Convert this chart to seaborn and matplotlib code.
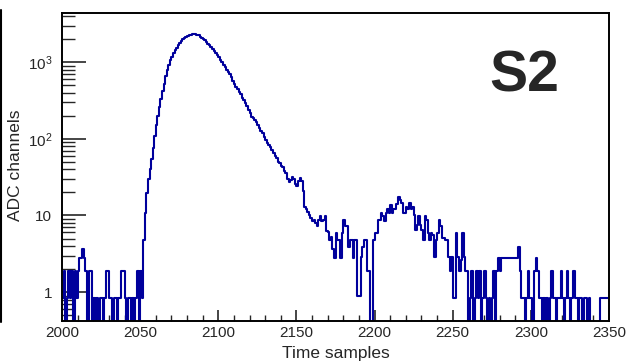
import numpy as np
import pandas as pd
import seaborn as sns
import matplotlib.pyplot as plt
from matplotlib.ticker import FixedLocator, FixedFormatter, LogLocator, MultipleLocator, NullFormatter
from matplotlib.lines import Line2D

# --- histogram contents, 1 time sample per bin, starting at 2000
t_first = 2000
t_last = 2350

# 2000 - 2051 : baseline noise before the pulse
counts_pre = [0.83, 1.86, 0, 0.83, 1.86, 0.83, 1.86, 0, 1.86, 0.83,
              1.86, 2.8, 2.8, 3.7, 2.8, 1.86, 0, 1.86, 1.86, 0,
              0.83, 0, 0.83, 0, 0.83, 0.83, 0, 0.83, 1.86, 1.86,
              0.83, 0.83, 0, 0.83, 0.83, 0, 0.83, 0.83, 1.86, 1.86,
              0.83, 0, 0.83, 0.83, 0, 0.83, 0, 0.83, 1.86, 0,
              1.86, 0.83]

# 2052 - 2099 : rise and peak
counts_peak = [4.8, 10.7, 19.5, 30, 40, 55, 75, 110,
               150, 200, 260, 330, 420, 520, 650, 800, 930, 1060,
               1180, 1300, 1420, 1550, 1680, 1780, 1900, 1990, 2080, 2150,
               2200, 2250, 2290, 2320, 2340, 2330, 2290, 2230, 2150, 2080,
               2020, 1960, 1850, 1740, 1650, 1560, 1480, 1400, 1330, 1250]

# 2100 - 2169 : exponential tail
counts_tail = [1150, 1070, 990, 930, 870, 800, 740, 700, 640, 560,
               520, 480, 440, 410, 380, 340, 320, 290, 265, 240,
               215, 195, 185, 175, 165, 150, 140, 125, 118, 107,
               97, 88, 84, 78, 72, 66, 60, 56, 50, 48,
               44, 43, 38, 36, 30, 27, 29, 32, 30, 26,
               24, 28, 31, 28, 21, 13, 12, 11, 10, 9.2,
               8.5, 8.7, 7.9, 7.2, 8.7, 9.7, 8.5, 8.7, 9.7, 6.2]

# 2170 - 2259 : second bump
counts_bump = [6.0, 4.8, 5.2, 3.7, 2.8, 5.9, 4.8, 4.8, 2.8, 5.9,
               8.7, 7.2, 7.2, 3.9, 4.8, 4.8, 2.8, 4.8, 4.8, 0.88,
               0.88, 2.9, 3.9, 4.8, 4.8, 1.86, 1.86, 0, 0, 4.8,
               5.9, 5.9, 8.7, 8.7, 10.7, 9.7, 8.5, 10.7, 12, 10.7,
               13.7, 10.7, 12, 12, 14, 17.6, 16, 14.5, 10.7, 10.7,
               13, 12, 14.5, 12, 13, 10, 6.5, 7.5, 9.7, 7.5,
               6.5, 4.8, 9.7, 8.7, 5.9, 4.8, 5.9, 5.6, 2.9, 4.8,
               5.9, 8.7, 7.2, 5.1, 5.1, 4.8, 4.8, 2.9, 1.86, 2.9,
               0.83, 0.83, 5.9, 2.9, 1.86, 2.6, 5.9, 2.9, 1.86, 1.86]

# 2260 - 2349 : baseline noise after the pulse
counts_post = [0, 0.83, 1.86, 0, 0.83, 1.86, 0.83, 1.86, 0, 0.83,
               1.86, 0.83, 0, 0.83, 0, 0.83, 1.86, 0, 1.86, 2.8,
               1.86, 2.8, 2.8, 2.8, 2.8, 2.8, 2.8, 2.8, 2.8, 2.8,
               2.8, 2.8, 3.9, 1.86, 0.83, 0.83, 0, 0.83, 1.86, 0.83,
               0.83, 0, 1.86, 2.8, 1.86, 0.83, 0.83, 0, 0.83, 0,
               0.83, 0, 0.83, 1.86, 0.83, 0.83, 0, 0.83, 0.83, 1.86,
               0.83, 0, 0.83, 1.86, 0.83, 0, 0.83, 1.86, 0.83, 0.83,
               0, 0.83, 0.83, 0, 0.83, 0.83, 0, 0.83, 0, 0,
               0, 0, 0, 0, 0.83, 0.83, 0.83, 0.83, 0.83, 0.83]

y_ticks = [1, 10, 100, 1000]
y_tick_labels = ['1', '10', '$10^{2}$', '$10^{3}$']
x_ticks = [2000, 2050, 2100, 2150, 2200, 2250, 2300, 2350]

counts = counts_pre + counts_peak + counts_tail + counts_bump + counts_post
df = pd.DataFrame({'t': np.arange(t_first, t_last) + 0.5, 'adc': counts})

sns.set_style('ticks')
plt.rcParams['font.family'] = ['Liberation Sans', 'DejaVu Sans']
plt.rcParams['mathtext.fontset'] = 'custom'
plt.rcParams['mathtext.rm'] = 'Liberation Sans'
plt.rcParams['mathtext.it'] = 'Liberation Sans:italic'

fig = plt.figure(figsize=(6.3, 3.63), dpi=100)
ax = fig.add_axes([62 / 630, 1 - 321 / 363, 547 / 630, 308 / 363])

sns.histplot(data=df, x='t', weights='adc', bins=t_last - t_first,
             binrange=(t_first, t_last), element='step', fill=False,
             color='#00009c', linewidth=1.5, ax=ax)

ax.set_yscale('log')
ax.set_xlim(t_first, t_last)
ax.set_ylim(0.42, 4370)

# ROOT-like frame and ticks
for side in ['left', 'bottom', 'top', 'right']:
    ax.spines[side].set_visible(True)
    ax.spines[side].set_color('black')
    ax.spines[side].set_linewidth(1.4)

ax.xaxis.set_major_locator(FixedLocator(x_ticks))
ax.xaxis.set_minor_locator(MultipleLocator(10))
ax.yaxis.set_major_locator(FixedLocator(y_ticks))
ax.yaxis.set_major_formatter(FixedFormatter(y_tick_labels))
ax.yaxis.set_minor_locator(LogLocator(base=10, subs=np.arange(2, 10), numticks=20))
ax.yaxis.set_minor_formatter(NullFormatter())

ax.tick_params(axis='x', which='major', direction='in', length=8, width=1.2,
               labelsize=11, pad=3.5, top=False)
ax.tick_params(axis='x', which='minor', direction='in', length=4, width=1.0, top=False)
ax.tick_params(axis='y', which='major', direction='in', length=17, width=1.2,
               labelsize=11, pad=7, right=False)
ax.tick_params(axis='y', which='minor', direction='in', length=9, width=1.0, right=False)

ax.set_xlabel('Time samples', fontsize=12.5)
ax.set_ylabel('ADC channels', fontsize=12.5)
ax.xaxis.set_label_coords(0.5, -0.08)
ax.yaxis.set_label_coords(-0.072, 0.505)

ax.text(0.8455, 0.795, 'S2', transform=ax.transAxes, fontsize=41,
        fontweight='bold', ha='center', va='center')

# edge of the neighbouring panel on the far left
fig.add_artist(Line2D([1.2 / 630, 1.2 / 630], [1 - 10 / 363, 1 - 322 / 363],
                      color='black', linewidth=1.5))

fig.savefig('out.png', dpi=100)
